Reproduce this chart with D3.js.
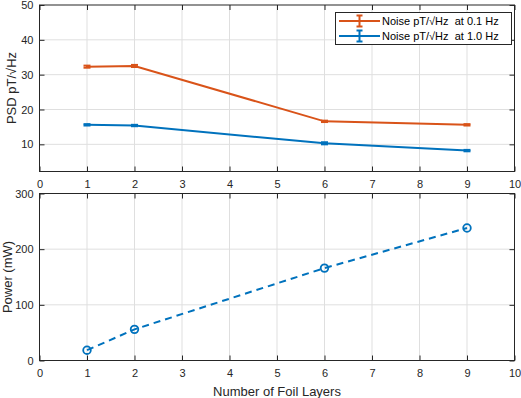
<!DOCTYPE html>
<html><head><meta charset="utf-8">
<script src="https://cdn.jsdelivr.net/npm/d3@7"></script>
<style>
body{margin:0;background:#fff;}
svg{display:block;font-family:"Liberation Sans",Arial,sans-serif;}
</style></head><body>
<svg id="c" width="521" height="398"></svg>
<script>
const layers = [1, 2, 6, 9];
const noise01 = [32.3, 32.5, 16.6, 15.6];
const noise01Err = [0.3, 0.3, 0.2, 0.2];
const noise10 = [15.6, 15.4, 10.3, 8.2];
const noise10Err = [0.2, 0.2, 0.3, 0.2];
const power = [18.5, 56, 166, 238];
const xTicks = [0,1,2,3,4,5,6,7,8,9,10];
const psdTicks = [10,20,30,40,50];
const powerTicks = [0,100,200,300];
const legendLabels = ["Noise pT/\u221AHz  at 0.1 Hz", "Noise pT/\u221AHz  at 1.0 Hz"];

const ORANGE = "#D95319", BLUE = "#0072BD", AX = "#262626", GRID = "#dfdfdf";
const svg = d3.select("#c");
const L = 39.5, R = 514.5;
const x = d3.scaleLinear().domain([0,10]).range([L,R]);
const y1 = d3.scaleLinear().domain([2.2,50]).range([171.5,5]);
const y2 = d3.scaleLinear().domain([0,300]).range([360.5,193.5]);

function panel(y, yt, ytop, ybot){
  const g = svg.append("g");
  g.selectAll(".gx").data(xTicks.slice(1,-1)).join("line")
    .attr("x1",d=>x(d)).attr("x2",d=>x(d)).attr("y1",ytop).attr("y2",ybot)
    .attr("stroke",GRID).attr("stroke-width",1);
  g.selectAll(".gy").data(yt.filter(d=>y(d)>ytop+1 && y(d)<ybot-1)).join("line")
    .attr("x1",L).attr("x2",R).attr("y1",d=>y(d)).attr("y2",d=>y(d))
    .attr("stroke",GRID).attr("stroke-width",1);
  const ax = d3.axisBottom(x).tickValues(xTicks).tickSize(-5).tickPadding(9).tickFormat(d3.format("d"));
  const gx = g.append("g").attr("transform",`translate(0,${ybot})`).call(ax);
  const axT = d3.axisTop(x).tickValues(xTicks).tickSize(-5).tickFormat("");
  const gxt = g.append("g").attr("transform",`translate(0,${ytop})`).call(axT);
  const ay = d3.axisLeft(y).tickValues(yt).tickSize(-5).tickPadding(6).tickFormat(d3.format("d"));
  const gy = g.append("g").attr("transform",`translate(${L},0)`).call(ay);
  const ayR = d3.axisRight(y).tickValues(yt).tickSize(-5).tickFormat("");
  const gyr = g.append("g").attr("transform",`translate(${R},0)`).call(ayR);
  [gx,gxt,gy,gyr].forEach(a=>{
    a.select(".domain").remove();
    a.selectAll("line").attr("stroke",AX);
    a.selectAll("text").attr("fill",AX).style("font-size","11px").attr("font-family","Liberation Sans, Arial, sans-serif");
  });
  g.append("rect").attr("x",L).attr("y",ytop).attr("width",R-L).attr("height",ybot-ytop)
    .attr("fill","none").attr("stroke",AX).attr("stroke-width",1);
  return g;
}

panel(y1, psdTicks, 5, 171.5);
panel(y2, powerTicks, 193.5, 360.5);

function errSeries(vals, errs, color){
  const line = d3.line().x((d,i)=>x(layers[i])).y(d=>y1(d));
  svg.append("path").datum(vals).attr("d",line).attr("fill","none")
    .attr("stroke",color).attr("stroke-width",2);
  const g = svg.append("g").attr("stroke",color).attr("stroke-width",2);
  vals.forEach((v,i)=>{
    const cx = x(layers[i]);
    g.append("line").attr("x1",cx).attr("x2",cx).attr("y1",y1(v-errs[i])).attr("y2",y1(v+errs[i]));
    g.append("line").attr("x1",cx-3.5).attr("x2",cx+3.5).attr("y1",y1(v-errs[i])).attr("y2",y1(v-errs[i]));
    g.append("line").attr("x1",cx-3.5).attr("x2",cx+3.5).attr("y1",y1(v+errs[i])).attr("y2",y1(v+errs[i]));
  });
}
errSeries(noise01, noise01Err, ORANGE);
errSeries(noise10, noise10Err, BLUE);

const pline = d3.line().x((d,i)=>x(layers[i])).y(d=>y2(d));
svg.append("path").datum(power).attr("d",pline).attr("fill","none")
  .attr("stroke",BLUE).attr("stroke-width",2).attr("stroke-dasharray","7,5");
svg.selectAll(".pc").data(power).join("circle")
  .attr("cx",(d,i)=>x(layers[i])).attr("cy",d=>y2(d)).attr("r",3.8)
  .attr("fill","none").attr("stroke",BLUE).attr("stroke-width",1.8);

const lg = svg.append("g");
lg.append("rect").attr("x",335.5).attr("y",12.5).attr("width",176).attr("height",32)
  .attr("fill","#fff").attr("stroke",AX).attr("stroke-width",1);
[ORANGE,BLUE].forEach((c,i)=>{
  const yy = 21 + i*15;
  lg.append("line").attr("x1",339).attr("x2",380).attr("y1",yy).attr("y2",yy).attr("stroke",c).attr("stroke-width",2);
  lg.append("line").attr("x1",359.5).attr("x2",359.5).attr("y1",yy-5.5).attr("y2",yy+5.5).attr("stroke",c).attr("stroke-width",2);
  lg.append("line").attr("x1",356.5).attr("x2",362.5).attr("y1",yy-5.5).attr("y2",yy-5.5).attr("stroke",c).attr("stroke-width",2);
  lg.append("line").attr("x1",356.5).attr("x2",362.5).attr("y1",yy+5.5).attr("y2",yy+5.5).attr("stroke",c).attr("stroke-width",2);
  lg.append("text").attr("x",382).attr("y",yy+4).attr("fill","#000").style("font-size","11px")
    .attr("xml:space","preserve").style("white-space","pre").text(legendLabels[i]);
});

svg.append("text").attr("transform","translate(16,88) rotate(-90)").attr("text-anchor","middle")
  .attr("fill",AX).style("font-size","13px").text("PSD pT/\u221AHz");
svg.append("text").attr("transform","translate(11.5,277) rotate(-90)").attr("text-anchor","middle")
  .attr("fill",AX).style("font-size","13px").text("Power (mW)");
svg.append("text").attr("x",277).attr("y",395.5).attr("text-anchor","middle")
  .attr("fill",AX).style("font-size","13px").text("Number of Foil Layers");
</script>
</body></html>
